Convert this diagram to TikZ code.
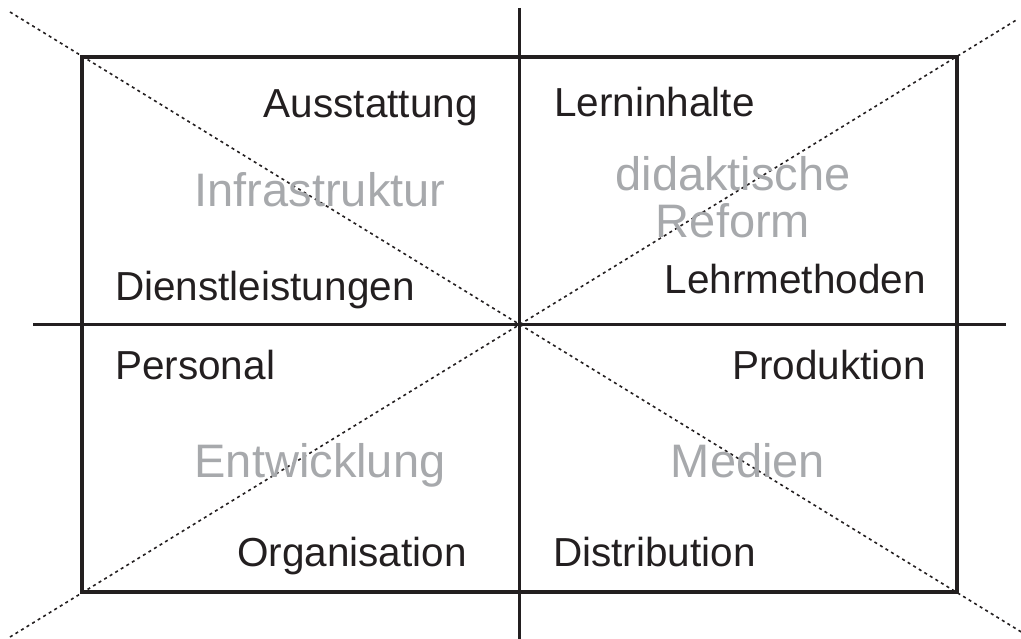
\documentclass[tikz,border=0pt]{standalone}
\usepackage{fontspec}
\setmainfont{Liberation Sans}
\definecolor{softgray}{RGB}{167,169,172}
\definecolor{ink}{RGB}{35,31,32}
\tikzset{
  frame/.style={line width=3.6pt, draw=ink},
  axis/.style={line width=3pt, draw=ink},
  diag/.style={line width=1.6pt, draw=ink, dash pattern=on 3pt off 3.5pt},
  lbl/.style={inner sep=0pt, text=ink, font=\fontsize{40.5}{48}\selectfont},
  theme/.style={inner sep=0pt, text=softgray, font=\fontsize{47}{47}\selectfont, align=center},
}
\begin{document}
\begin{tikzpicture}[x=1pt,y=-1pt]
\useasboundingbox (0,0) rectangle (1021,639);
% corners
\coordinate (tl) at (82,57);
\coordinate (tr) at (957,57);
\coordinate (bl) at (82,592);
\coordinate (br) at (957,592);
% axis ends
\coordinate (vt) at (519.5,8);
\coordinate (vb) at (519.5,639);
\coordinate (hl) at (33,324.5);
\coordinate (hr) at (1006,324.5);
% diagonal ends
\coordinate (dtl) at (10,12);
\coordinate (dbr) at (1029,636.7);
\coordinate (dtr) at (1018,19);
\coordinate (dbl) at (10,637);
\begin{scope}
\clip (0,0) rectangle (1021,639);
\draw[diag] (dtl) -- (dbr);
\draw[diag] (dbl) -- (dtr);
\end{scope}
\draw[axis] (vt) -- (vb);
\draw[axis] (hl) -- (hr);
\draw[frame] (tl) rectangle (br);
% labels
\node[lbl, anchor=base east] (aus) at (478,118) {Ausstattung};
\node[lbl, anchor=base west] (lern) at (554,117) {Lerninhalte};
\node[lbl, anchor=base west] (dienst) at (115,301) {Dienstleistungen};
\node[lbl, anchor=base east] (lehr) at (926,294) {Lehrmethoden};
\node[lbl, anchor=base west] (pers) at (115,379) {Personal};
\node[lbl, anchor=base east] (prod) at (926,379) {Produktion};
\node[lbl, anchor=base east] (org) at (467,566) {Organisation};
\node[lbl, anchor=base west] (dist) at (553,566) {Distribution};
\node[theme, anchor=base] (infra) at (320,207) {Infrastruktur};
\node[theme, anchor=base] (dida) at (733,191) {didaktische};
\node[theme, anchor=base] (reform) at (733,238) {Reform};
\node[theme, anchor=base] (entw) at (320,477) {Entwicklung};
\node[theme, anchor=base] (medien) at (748,477) {Medien};
\end{tikzpicture}
\end{document}
